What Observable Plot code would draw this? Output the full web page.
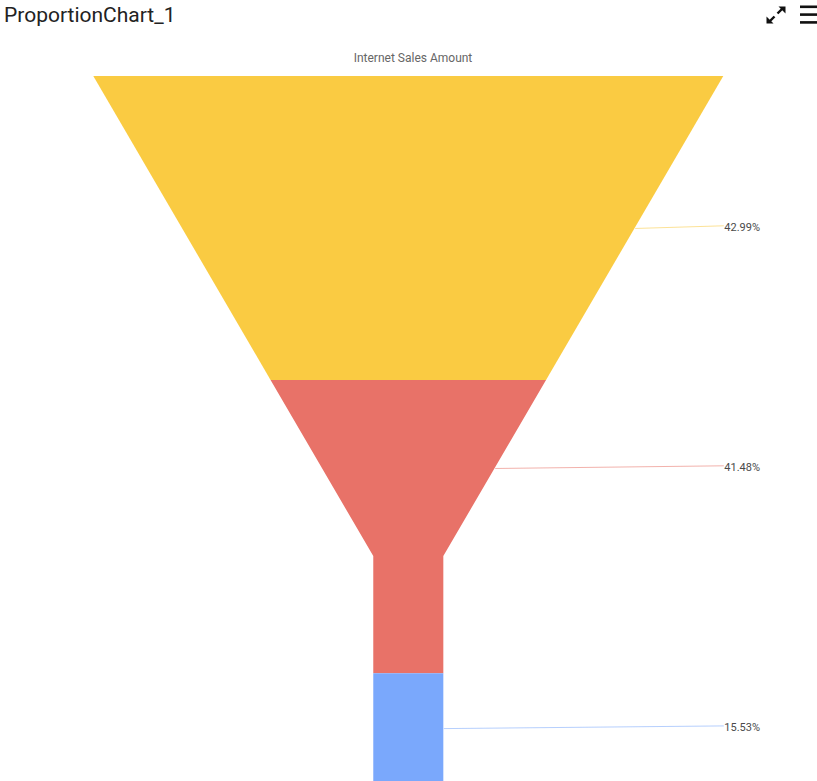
<!DOCTYPE html>
<html>
<head>
<meta charset="utf-8">
<script src="https://cdn.jsdelivr.net/npm/d3@7"></script>
<script src="https://cdn.jsdelivr.net/npm/@observablehq/plot@0.6"></script>
<style>
  html, body { margin: 0; padding: 0; background: #fff; overflow: hidden; }
  body { width: 817px; height: 781px; font-family: Roboto, "Noto Sans", sans-serif; }
  #header { position: relative; width: 817px; height: 70px; }
  #title { position: absolute; left: 4px; top: 5px; font-size: 21px; line-height: 21px; color: #222; white-space: nowrap; }
  #subtitle { position: absolute; left: 0; width: 826px; text-align: center; top: 52px; font-size: 12px; line-height: 12px; color: #666; white-space: nowrap; }
  #chart svg { display: block; }
</style>
</head>
<body>
<div id="header">
  <div id="title">ProportionChart_1</div>
  <svg id="icons" width="60" height="30" viewBox="757 0 60 30" style="position:absolute;right:0;top:0">
    <g fill="#111" stroke="#111">
      <line x1="777.5" y1="13.5" x2="782" y2="9" stroke-width="2.4"/>
      <polygon points="785.5,6.5 785.5,13.5 778.5,6.5" stroke="none"/>
      <line x1="774.5" y1="16.5" x2="770" y2="21" stroke-width="2.4"/>
      <polygon points="766.5,23.5 766.5,16.5 773.5,23.5" stroke="none"/>
      <rect x="800" y="5.5" width="17" height="2.6" stroke="none"/>
      <rect x="800" y="13.3" width="17" height="2.6" stroke="none"/>
      <rect x="800" y="21.1" width="17" height="2.6" stroke="none"/>
    </g>
  </svg>
  <div id="subtitle">Internet Sales Amount</div>
</div>
<div id="chart"></div>
<script>
// ---- data ----
const segments = ["Segment 1", "Segment 2", "Segment 3"];
const shares = [42.99, 41.48, 15.53];
const labels = ["42.99%", "41.48%", "15.53%"];
const colors = ["#FACB42", "#E87268", "#7AA8FC"];

// ---- funnel geometry (percent of funnel height / half-width) ----
const neckTop = 67.9;     // where the neck begins, % of height
const neckHalf = 5.56;    // neck half-width, in x units (top half-width = 50)
const halfWidth = t => t <= neckTop ? 50 - (50 - neckHalf) * (t / neckTop) : neckHalf;

const cum = [0];
shares.forEach((v, i) => cum.push(cum[i] + v));

const areaPts = [];
const labelPts = [];
segments.forEach((s, i) => {
  const t0 = cum[i], t1 = cum[i + 1];
  const ts = [t0];
  if (t0 < neckTop && t1 > neckTop) ts.push(neckTop);
  ts.push(t1);
  ts.forEach(t => areaPts.push({seg: s, t, x1: -halfWidth(t), x2: halfWidth(t)}));
  const mid = t0 < neckTop ? (t0 + Math.min(t1, neckTop)) / 2 : (t0 + t1) / 2;
  labelPts.push({seg: s, t: mid, label: labels[i]});
});

const chart = Plot.plot({
  width: 817,
  height: 711,
  x: {domain: [-50, 50], range: [93.3, 723.3], axis: null},
  y: {domain: [0, 100], range: [6, 713], axis: null},
  color: {domain: segments, range: colors},
  style: {fontFamily: "Roboto, sans-serif", background: "#fff"},
  marks: [
    Plot.areaX(areaPts, {y: "t", x1: "x1", x2: "x2", z: "seg", fill: "seg", curve: "linear"}),
    Plot.link(labelPts, {
      x1: d => halfWidth(d.t), y1: "t",
      x2: 50, y2: d => d.t - 0.38,
      stroke: "seg", strokeOpacity: 0.55, strokeWidth: 1
    }),
    Plot.text(labelPts, {
      x: 50, y: d => d.t - 0.2, text: "label", dx: 0.5,
      textAnchor: "start", fontSize: 11, fill: "#4a4a4a"
    })
  ]
});
document.getElementById("chart").appendChild(chart);
</script>
</body>
</html>
